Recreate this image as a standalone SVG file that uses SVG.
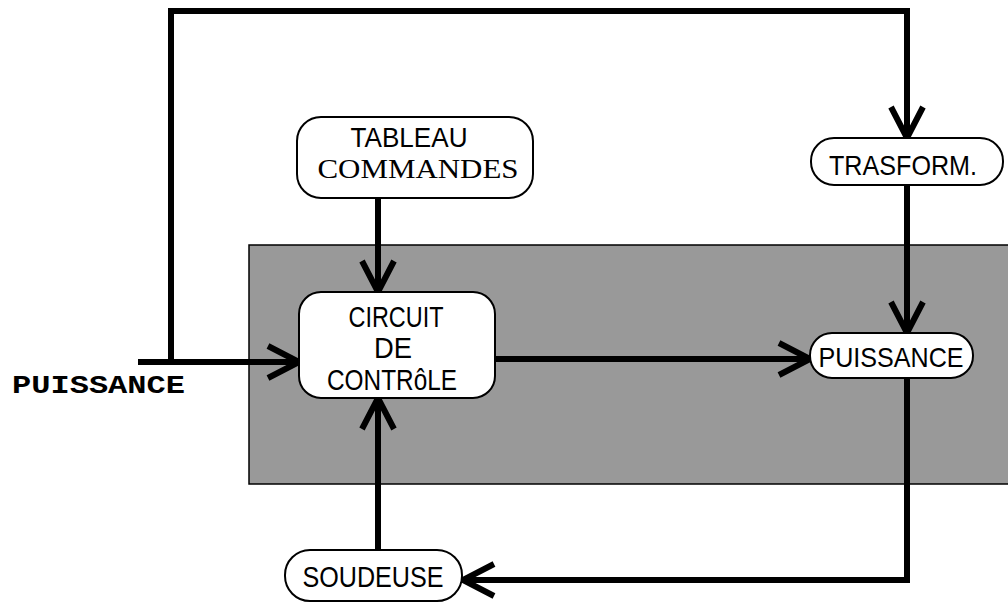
<svg xmlns="http://www.w3.org/2000/svg" width="1008" height="603" viewBox="0 0 1008 603">
<style>
.box{fill:#fff;stroke:#000;stroke-width:2}
.t{font-family:"Liberation Sans",Arial,sans-serif;font-size:28px;fill:#000;text-anchor:middle}
.t30{font-size:29px}
.w{fill:none;stroke:#000;stroke-width:6}
</style>
<defs>
<marker id="ah" markerUnits="userSpaceOnUse" markerWidth="40" markerHeight="40" viewBox="-36 -20 40 40" refX="0" refY="0" orient="auto" overflow="visible">
<path d="M-31,-16 L0,0 L-31,16" fill="none" stroke="#000" stroke-width="6" stroke-linejoin="miter"/>
</marker>
</defs>
<rect id="zone" x="249" y="245" width="762" height="239" fill="#999999" stroke="#000" stroke-width="1.5"/>
<g id="connectors">
<polyline class="w" points="171,362 171,11 907,11 907,138" marker-end="url(#ah)"/>
<line class="w" x1="138" y1="362" x2="299" y2="362" marker-end="url(#ah)"/>
<line class="w" x1="378" y1="198" x2="378" y2="292" marker-end="url(#ah)"/>
<line class="w" x1="495" y1="359" x2="810" y2="359" marker-end="url(#ah)"/>
<line class="w" x1="907" y1="185" x2="907" y2="333" marker-end="url(#ah)"/>
<polyline class="w" points="907,378 907,580 463,580" marker-end="url(#ah)"/>
<line class="w" x1="378" y1="550" x2="378" y2="398" marker-end="url(#ah)"/>
</g>
<g id="tableau">
<rect class="box" x="297" y="117" width="236" height="81" rx="24"/>
<text class="t" x="409" y="147" textLength="117" lengthAdjust="spacingAndGlyphs">TABLEAU</text>
<text x="418" y="178" font-family="'Liberation Serif','Times New Roman',serif" font-size="27" text-anchor="middle" textLength="201" lengthAdjust="spacingAndGlyphs">COMMANDES</text>
</g>
<g id="circuit">
<rect class="box" x="299" y="292" width="196" height="106" rx="22"/>
<text class="t t30" x="396" y="327" textLength="95" lengthAdjust="spacingAndGlyphs">CIRCUIT</text>
<text class="t t30" x="393" y="358" textLength="38" lengthAdjust="spacingAndGlyphs">DE</text>
<text class="t t30" x="392" y="390" textLength="130" lengthAdjust="spacingAndGlyphs">CONTRôLE</text>
</g>
<g id="puissance">
<rect class="box" x="810" y="333" width="163" height="45" rx="22"/>
<text class="t" x="891" y="367" textLength="145" lengthAdjust="spacingAndGlyphs">PUISSANCE</text>
</g>
<g id="trasform">
<rect class="box" x="811" y="138" width="192" height="47" rx="23"/>
<text class="t" x="903" y="175" textLength="148" lengthAdjust="spacingAndGlyphs">TRASFORM.</text>
</g>
<g id="soudeuse">
<rect class="box" x="285" y="550" width="177" height="51" rx="25"/>
<text class="t t30" x="373" y="587" textLength="141" lengthAdjust="spacingAndGlyphs">SOUDEUSE</text>
</g>
<g id="input">
<text x="12" y="393" font-family="'Liberation Mono','Courier New',monospace" font-weight="bold" font-size="26" textLength="173" lengthAdjust="spacingAndGlyphs">PUISSANCE</text>
</g>
</svg>
